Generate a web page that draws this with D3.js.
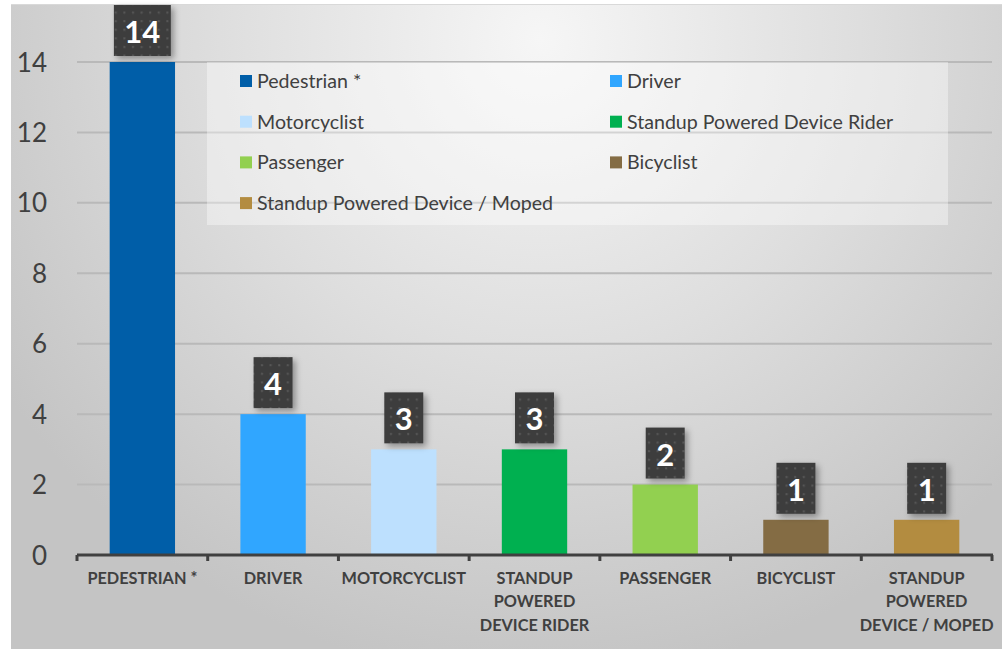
<!DOCTYPE html>
<html><head><meta charset="utf-8">
<script src="https://cdn.jsdelivr.net/npm/d3@7"></script>
<style>
html,body{margin:0;padding:0;background:#fff;}
svg{display:block;}
text{font-family:Lato,"Open Sans",sans-serif;}
</style></head>
<body>
<svg id="chart" width="1003" height="649"></svg>
<script>
const categories = ["Pedestrian *","Driver","Motorcyclist","Standup Powered Device Rider","Passenger","Bicyclist","Standup Powered Device / Moped"];
const axisLabels = [["PEDESTRIAN *"],["DRIVER"],["MOTORCYCLIST"],["STANDUP","POWERED","DEVICE RIDER"],["PASSENGER"],["BICYCLIST"],["STANDUP","POWERED","DEVICE / MOPED"]];
const values = [14,4,3,3,2,1,1];
const colors = ["#005ea8","#30a6ff","#bde0fe","#00b050","#92d050","#846c44","#b38c40"];
const yTicks = [0,2,4,6,8,10,12,14];

const svg = d3.select("#chart");
const W = 1003, H = 649;
const defs = svg.append("defs");
const rg = defs.append("radialGradient").attr("id","bg").attr("gradientUnits","userSpaceOnUse")
  .attr("cx",540).attr("cy",40).attr("r",640).attr("fx",540).attr("fy",40);
rg.append("stop").attr("offset","0%").attr("stop-color","#f6f6f6");
rg.append("stop").attr("offset","50%").attr("stop-color","#dedede");
rg.append("stop").attr("offset","100%").attr("stop-color","#c4c4c4");

const pat = defs.append("pattern").attr("id","dots").attr("patternUnits","userSpaceOnUse")
  .attr("width",8.6).attr("height",8.6);
pat.append("rect").attr("width",8.6).attr("height",8.6).attr("fill","#3d3d3d");
pat.append("rect").attr("x",3).attr("y",3).attr("width",2).attr("height",2).attr("fill","#585858");

const sh = defs.append("filter").attr("id","shadow").attr("x","-30%").attr("y","-30%").attr("width","170%").attr("height","170%");
sh.append("feDropShadow").attr("dx",3).attr("dy",3).attr("stdDeviation",3).attr("flood-color","#000").attr("flood-opacity",0.35);

// background
svg.append("rect").attr("x",11).attr("y",4).attr("width",991).attr("height",H-4).attr("fill","url(#bg)");
svg.append("line").attr("x1",11).attr("x2",1002).attr("y1",4.5).attr("y2",4.5).attr("stroke","#d9d9d9").attr("stroke-width",1);

const x = d3.scaleBand().domain(categories).range([77,992]).paddingInner(0).paddingOuter(0);
const y = d3.scaleLinear().domain([0,14]).range([555,62]);

// gridlines
svg.append("g").selectAll("line").data(yTicks.filter(d=>d>0)).join("line")
  .attr("x1",77).attr("x2",992).attr("y1",d=>y(d)).attr("y2",d=>y(d))
  .attr("stroke","#b9b9b9").attr("stroke-width",2);

// y labels
svg.append("g").selectAll("text").data(yTicks).join("text")
  .attr("x",47).attr("y",d=>y(d)+9.5).attr("text-anchor","end")
  .attr("font-size",26).attr("fill","#404040").text(d=>d);

// legend box
svg.append("rect").attr("x",207).attr("y",62).attr("width",741).attr("height",163)
  .attr("fill","#ffffff").attr("fill-opacity",0.38);

const legend = svg.append("g");
categories.forEach((c,i)=>{
  const col = i%2, row = Math.floor(i/2);
  const lx = col===0?240:610, ly = 81 + row*40.7;
  legend.append("rect").attr("x",lx).attr("y",ly-6).attr("width",12).attr("height",12).attr("fill",colors[i]);
  legend.append("text").attr("x",lx+17).attr("y",ly+7).attr("font-size",19.6).attr("fill","#404040").text(c);
});

// bars
const bw = x.bandwidth()*0.5;
svg.append("g").selectAll("rect").data(values).join("rect")
  .attr("x",(d,i)=>x(categories[i])+x.bandwidth()/2-bw/2)
  .attr("y",d=>y(d)).attr("width",bw).attr("height",d=>y(0)-y(d))
  .attr("fill",(d,i)=>colors[i]);

// axis
const axis = d3.axisBottom(x).tickSize(0).tickFormat("");
const ag = svg.append("g").attr("transform",`translate(0,${y(0)})`).call(axis);
ag.select(".domain").remove();
svg.append("line").attr("x1",77).attr("x2",993).attr("y1",y(0)).attr("y2",y(0)).attr("stroke","#404040").attr("stroke-width",3);
const tickPos = categories.map(c=>x(c)).concat([x.range()[1]]);
svg.append("g").selectAll("line").data(tickPos).join("line")
  .attr("x1",d=>d).attr("x2",d=>d).attr("y1",y(0)).attr("y2",y(0)+6)
  .attr("stroke","#404040").attr("stroke-width",3);

// x labels
categories.forEach((c,i)=>{
  const cx = x(c)+x.bandwidth()/2;
  const t = svg.append("text").attr("text-anchor","middle").attr("font-size",16.3).attr("font-weight","bold").attr("fill","#404040");
  axisLabels[i].forEach((ln,j)=>{
    t.append("tspan").attr("x",cx).attr("y",584+j*23.3).text(ln);
  });
});

// data labels
const lg = svg.append("g");
values.forEach((v,i)=>{
  const cx = x(categories[i])+x.bandwidth()/2;
  const g = lg.append("g");
  const r = g.append("rect").attr("fill","url(#dots)").attr("filter","url(#shadow)");
  const t = g.append("text").attr("x",cx).attr("text-anchor","middle").attr("font-size",31).attr("font-weight","bold").attr("fill","#fff").text(v);
  const tw = t.node().getComputedTextLength();
  const bottom = y(v)-6, h = 51, w = tw+21;
  r.attr("x",cx-w/2).attr("y",bottom-h).attr("width",w).attr("height",h);
  t.attr("y",bottom-13);
});
</script>
</body></html>
